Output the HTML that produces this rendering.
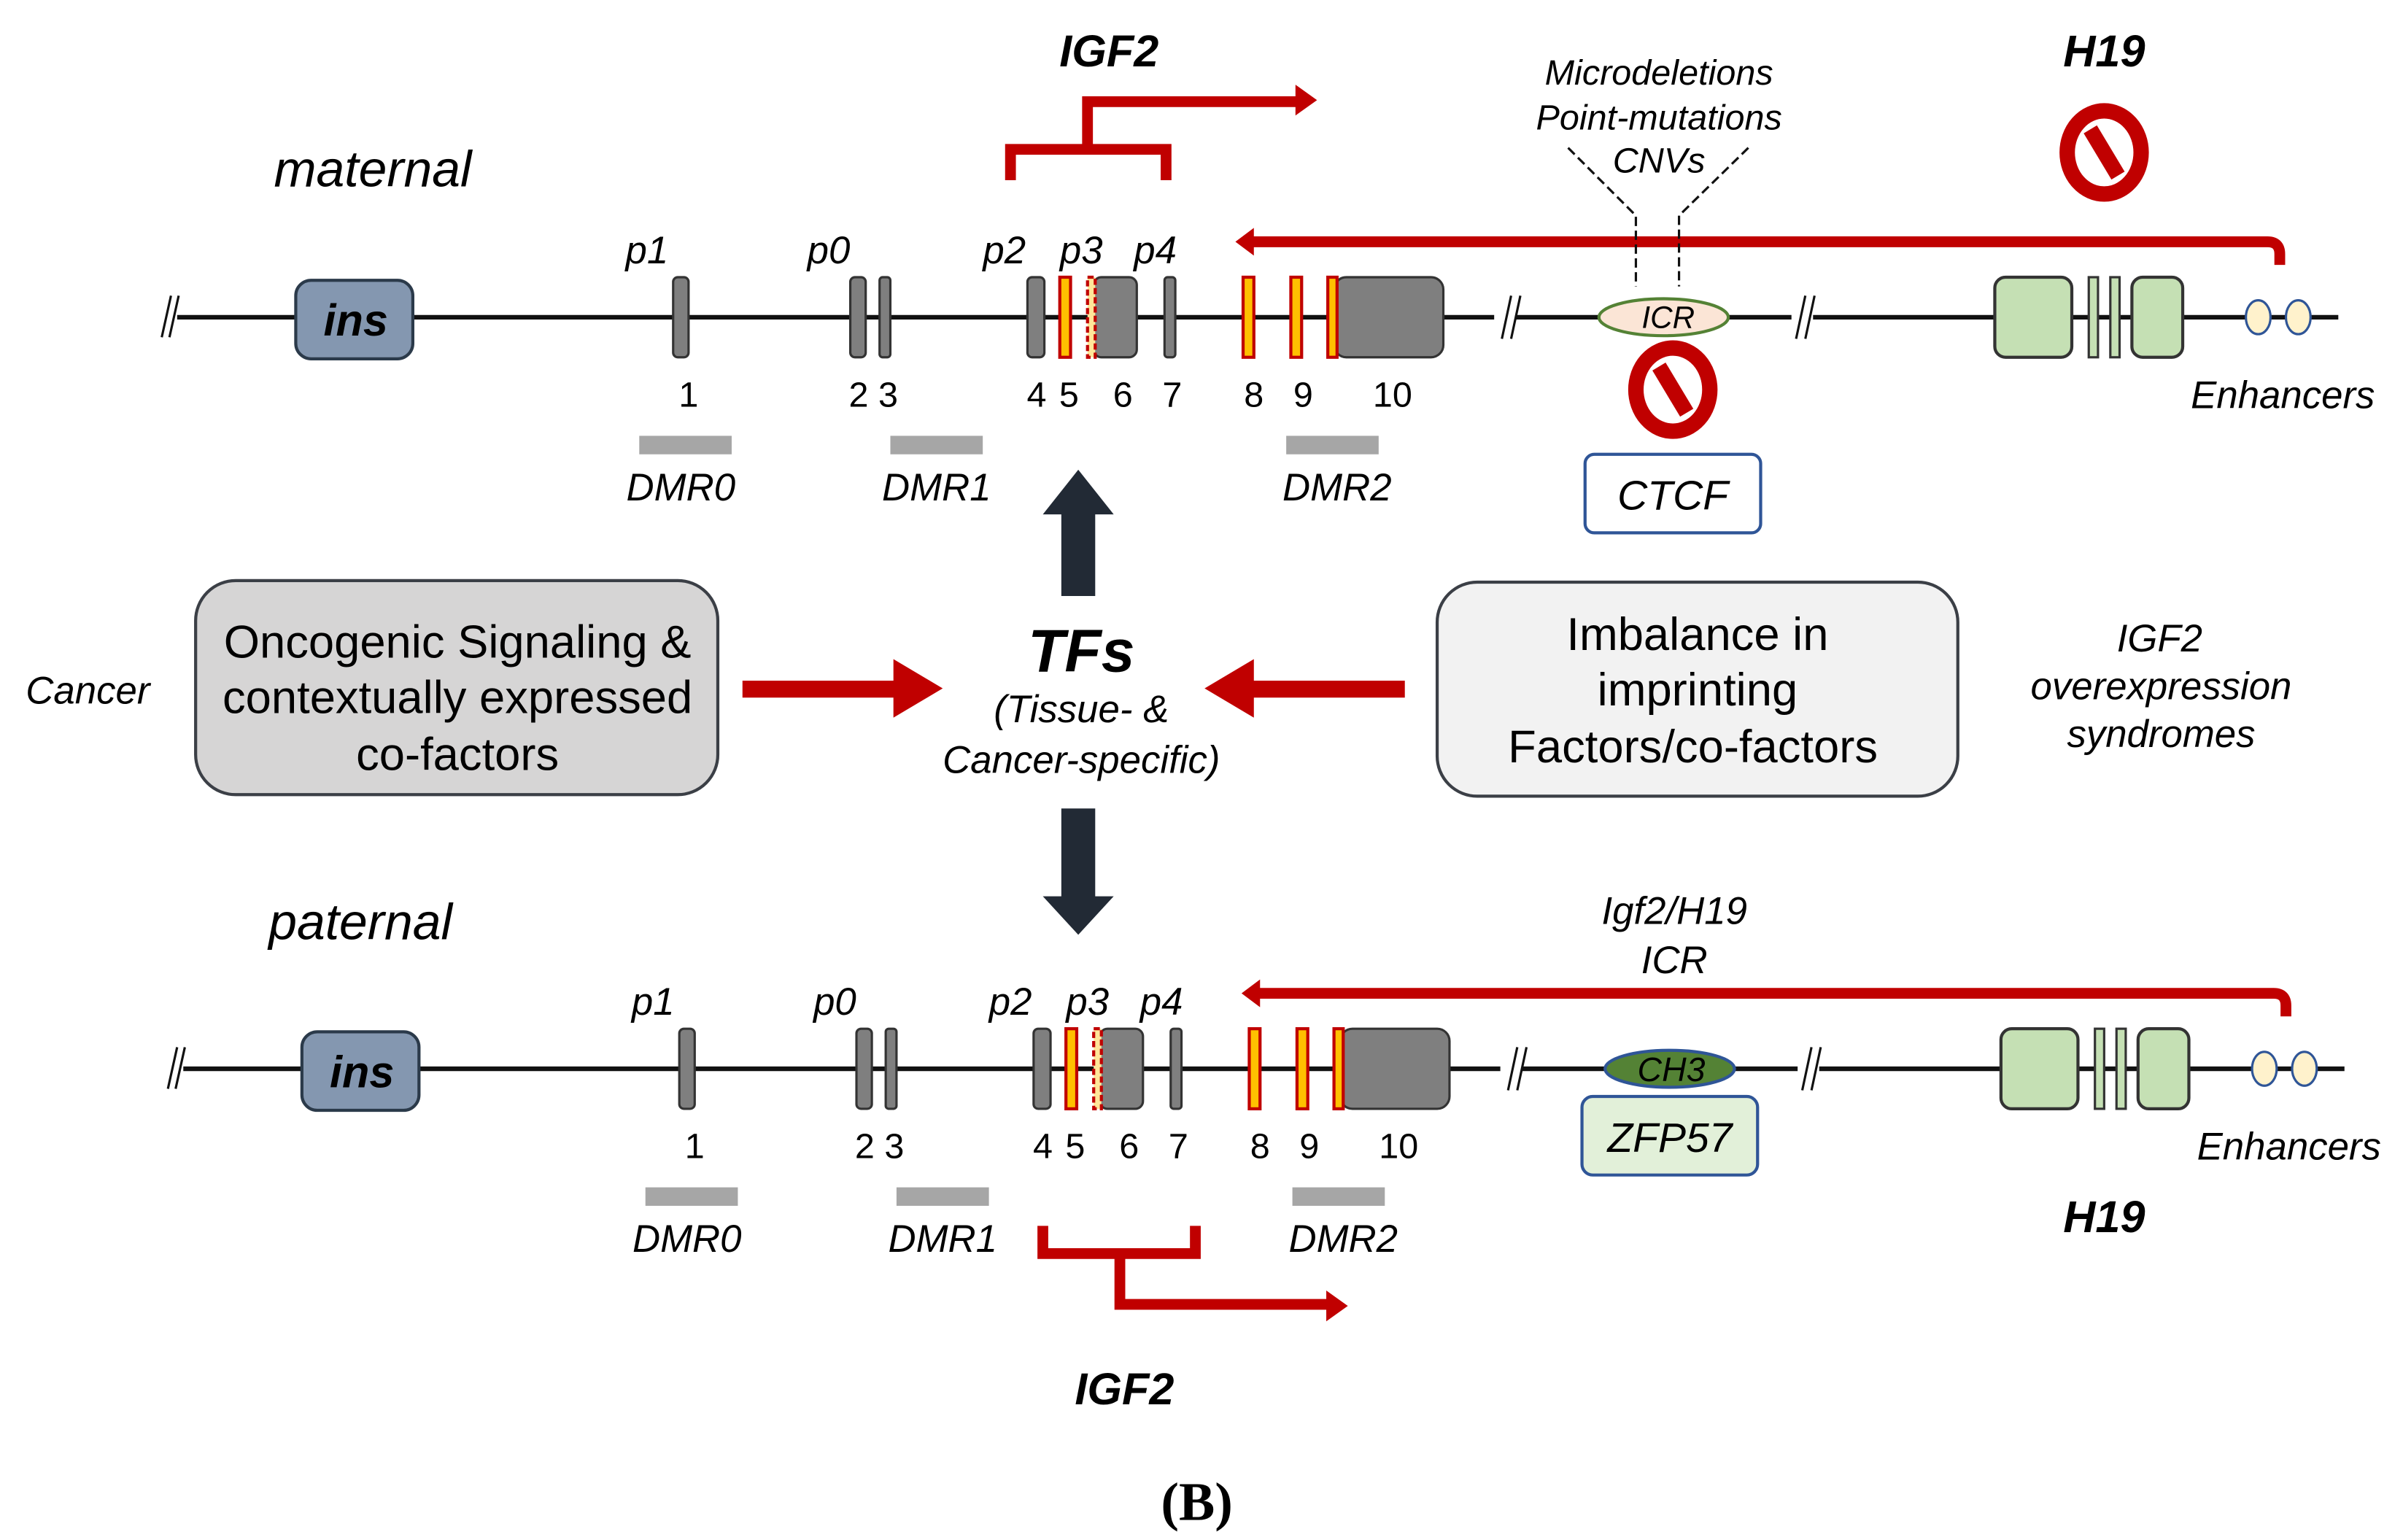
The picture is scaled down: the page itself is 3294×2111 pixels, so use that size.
<!DOCTYPE html>
<html><head><meta charset="utf-8"><style>
html,body{margin:0;padding:0;background:#fff}
svg{display:block}
text{font-family:"Liberation Sans",sans-serif;fill:#000}
.i{font-style:italic}
.b{font-weight:bold}
</style></head><body>
<svg width="3294" height="2111" viewBox="0 0 1560 1000" preserveAspectRatio="none" xmlns="http://www.w3.org/2000/svg">
<defs>
<g id="track">
  <line x1="115" y1="206" x2="1518" y2="206" stroke="#111" stroke-width="3"/>
  <line x1="105" y1="219" x2="111" y2="192" stroke="#111" stroke-width="1.5"/>
  <line x1="110" y1="219" x2="116" y2="192" stroke="#111" stroke-width="1.5"/>
  <rect x="192" y="182" width="76" height="51" rx="10" fill="#8497b0" stroke="#2b3a4a" stroke-width="2"/>
  <text x="231" y="218" text-anchor="middle" class="i b" font-size="29">ins</text>
  <rect x="437" y="180" width="10" height="52" rx="3" fill="#7f7f7f" stroke="#333" stroke-width="1.5"/>
  <rect x="552" y="180" width="10" height="52" rx="3" fill="#7f7f7f" stroke="#333" stroke-width="1.5"/>
  <rect x="571" y="180" width="7" height="52" rx="2" fill="#7f7f7f" stroke="#333" stroke-width="1.5"/>
  <rect x="667" y="180" width="11" height="52" rx="3" fill="#7f7f7f" stroke="#333" stroke-width="1.5"/>
  <rect x="688" y="180" width="7" height="52" fill="#ffc000" stroke="#c00000" stroke-width="2"/>
  <rect x="710" y="180" width="28" height="52" rx="5" fill="#7f7f7f" stroke="#333" stroke-width="1.5"/>
  <rect x="706" y="180" width="5" height="52" fill="#ffe699" stroke="#c00000" stroke-width="2" stroke-dasharray="4 2"/>
  <rect x="756" y="180" width="7" height="52" rx="2" fill="#7f7f7f" stroke="#333" stroke-width="1.5"/>
  <rect x="807" y="180" width="7" height="52" fill="#ffc000" stroke="#c00000" stroke-width="2"/>
  <rect x="838" y="180" width="7" height="52" fill="#ffc000" stroke="#c00000" stroke-width="2"/>
  <rect x="866" y="180" width="71" height="52" rx="8" fill="#7f7f7f" stroke="#333" stroke-width="1.5"/>
  <rect x="862" y="180" width="6" height="52" fill="#ffc000" stroke="#c00000" stroke-width="2"/>
  <rect x="970" y="198" width="14" height="16" fill="#fff"/>
  <line x1="975" y1="220" x2="981" y2="192" stroke="#111" stroke-width="1.5"/>
  <line x1="981" y1="220" x2="987" y2="192" stroke="#111" stroke-width="1.5"/>
  <rect x="1163" y="198" width="14" height="16" fill="#fff"/>
  <line x1="1166" y1="220" x2="1172" y2="192" stroke="#111" stroke-width="1.5"/>
  <line x1="1172" y1="220" x2="1178" y2="192" stroke="#111" stroke-width="1.5"/>
  <rect x="1295" y="180" width="50" height="52" rx="7" fill="#c5e0b4" stroke="#333" stroke-width="2"/>
  <rect x="1356" y="180" width="6" height="52" fill="#c5e0b4" stroke="#333" stroke-width="1.5"/>
  <rect x="1370" y="180" width="6" height="52" fill="#c5e0b4" stroke="#333" stroke-width="1.5"/>
  <rect x="1384" y="180" width="33" height="52" rx="7" fill="#c5e0b4" stroke="#333" stroke-width="2"/>
  <ellipse cx="1466" cy="206" rx="8" ry="11" fill="#fff2cc" stroke="#2f5597" stroke-width="1.5"/>
  <ellipse cx="1492" cy="206" rx="8" ry="11" fill="#fff2cc" stroke="#2f5597" stroke-width="1.5"/>
  <g class="i" font-size="25">
    <text x="420" y="171" text-anchor="middle">p1</text>
    <text x="538" y="171" text-anchor="middle">p0</text>
    <text x="652" y="171" text-anchor="middle">p2</text>
    <text x="702" y="171" text-anchor="middle">p3</text>
    <text x="750" y="171" text-anchor="middle">p4</text>
  </g>
  <g font-size="23" text-anchor="middle">
    <text x="447" y="264">1</text>
    <text x="567" y="264">2 3</text>
    <text x="673" y="264">4</text>
    <text x="694" y="264">5</text>
    <text x="729" y="264">6</text>
    <text x="761" y="264">7</text>
    <text x="814" y="264">8</text>
    <text x="846" y="264">9</text>
    <text x="904" y="264">10</text>
  </g>
  <rect x="415" y="283" width="60" height="12" fill="#a6a6a6"/>
  <rect x="578" y="283" width="60" height="12" fill="#a6a6a6"/>
  <rect x="835" y="283" width="60" height="12" fill="#a6a6a6"/>
  <g class="i" font-size="25" text-anchor="middle">
    <text x="442" y="325">DMR0</text>
    <text x="608" y="325">DMR1</text>
    <text x="868" y="325">DMR2</text>
    <text x="1482" y="265">Enhancers</text>
  </g>
  <path d="M812 157 H1472 Q1480 157 1480 165 V172" fill="none" stroke="#c00000" stroke-width="7"/>
  <polygon points="802,157 814,148 814,166" fill="#c00000"/>
</g>
<g id="nosign">
  <ellipse cx="0" cy="0" rx="24" ry="27" fill="none" stroke="#c00000" stroke-width="10"/>
  <line x1="-9" y1="-15" x2="9" y2="15" stroke="#c00000" stroke-width="10"/>
</g>
</defs>

<!-- maternal -->
<text x="242" y="121" text-anchor="middle" class="i" font-size="33">maternal</text>
<use href="#track"/>
<ellipse cx="1080" cy="206" rx="42" ry="12" fill="#fbe5d6" stroke="#548235" stroke-width="2"/>
<text x="1083" y="213" text-anchor="middle" class="i" font-size="20">ICR</text>
<text x="720" y="43" text-anchor="middle" class="i b" font-size="29">IGF2</text>
<text x="1366" y="43" text-anchor="middle" class="i b" font-size="29">H19</text>
<path d="M656 117 V97 H757 V117 M706 97 V66 H843" fill="none" stroke="#c00000" stroke-width="7"/>
<polygon points="855,65 841,55 841,75" fill="#c00000"/>
<use href="#nosign" x="1366" y="99"/>
<use href="#nosign" x="1086" y="253"/>
<g class="i" font-size="23" text-anchor="middle">
  <text x="1077" y="55">Microdeletions</text>
  <text x="1077" y="84">Point-mutations</text>
  <text x="1077" y="112">CNVs</text>
</g>
<path d="M1018 96 L1062 140 V186 M1135 96 L1090 140 V186" fill="none" stroke="#111" stroke-width="1.5" stroke-dasharray="6 3"/>
<rect x="1029" y="295" width="114" height="51" rx="6" fill="#fff" stroke="#2f5597" stroke-width="2"/>
<text x="1086" y="331" text-anchor="middle" class="i" font-size="27">CTCF</text>

<!-- middle -->
<text x="57" y="457" text-anchor="middle" class="i" font-size="25">Cancer</text>
<rect x="127" y="377" width="339" height="139" rx="26" fill="#d6d5d5" stroke="#3b3f46" stroke-width="2"/>
<g font-size="30" text-anchor="middle">
  <text x="297" y="427">Oncogenic Signaling &amp;</text>
  <text x="297" y="463">contextually expressed</text>
  <text x="297" y="500">co-factors</text>
</g>
<rect x="482" y="442" width="100" height="11" fill="#c00000"/>
<polygon points="612,447 580,428 580,466" fill="#c00000"/>
<rect x="812" y="442" width="100" height="11" fill="#c00000"/>
<polygon points="782,447 814,428 814,466" fill="#c00000"/>
<text x="702" y="436" text-anchor="middle" class="i b" font-size="39">TFs</text>
<text x="702" y="469" text-anchor="middle" class="i" font-size="25">(Tissue- &amp;</text>
<text x="702" y="502" text-anchor="middle" class="i" font-size="25">Cancer-specific)</text>
<rect x="933" y="378" width="338" height="139" rx="26" fill="#f2f2f2" stroke="#3b3f46" stroke-width="2"/>
<g font-size="30" text-anchor="middle">
  <text x="1102" y="422">Imbalance in</text>
  <text x="1102" y="458">imprinting</text>
  <text x="1099" y="495">Factors/co-factors</text>
</g>
<g class="i" font-size="25" text-anchor="middle">
  <text x="1402" y="423">IGF2</text>
  <text x="1403" y="454">overexpression</text>
  <text x="1403" y="485">syndromes</text>
</g>
<polygon points="689,387 711,387 711,334 723,334 700,305 677,334 689,334" fill="#222a35"/>
<polygon points="689,525 711,525 711,582 723,582 700,607 677,582 689,582" fill="#222a35"/>

<!-- paternal -->
<text x="234" y="610" text-anchor="middle" class="i" font-size="33">paternal</text>
<use href="#track" x="4" y="488"/>
<ellipse cx="1084" cy="694" rx="42" ry="12" fill="#548235" stroke="#2f5597" stroke-width="2"/>
<text x="1085" y="702" text-anchor="middle" class="i" font-size="22">CH3</text>
<rect x="1027" y="712" width="114" height="51" rx="7" fill="#e2f0d9" stroke="#2f5597" stroke-width="2"/>
<text x="1084" y="748" text-anchor="middle" class="i" font-size="27">ZFP57</text>
<text x="1087" y="600" text-anchor="middle" class="i" font-size="25">Igf2/H19</text>
<text x="1087" y="632" text-anchor="middle" class="i" font-size="25">ICR</text>
<text x="1366" y="800" text-anchor="middle" class="i b" font-size="29">H19</text>
<path d="M677 796 V814 H776 V796 M727 814 V847 H863" fill="none" stroke="#c00000" stroke-width="7"/>
<polygon points="875,848 861,838 861,858" fill="#c00000"/>
<text x="730" y="912" text-anchor="middle" class="i b" font-size="29">IGF2</text>
<text x="777" y="987" text-anchor="middle" font-weight="bold" font-size="35" style="font-family:'Liberation Serif',serif">(B)</text>
</svg>
</body></html>
